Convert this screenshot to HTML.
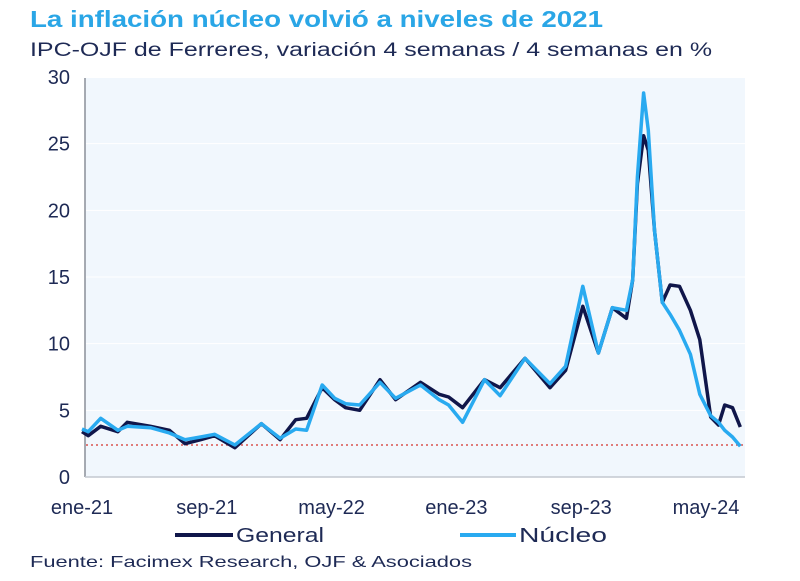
<!DOCTYPE html>
<html><head><meta charset="utf-8"><style>
body{margin:0;background:#fff;width:800px;height:581px;overflow:hidden;font-family:"Liberation Sans",sans-serif}
svg{display:block}
</style></head><body>
<svg id="c" width="800" height="581">
<text x="30" y="27" font-size="23" font-weight="bold" fill="#2aa6e6" textLength="573" lengthAdjust="spacingAndGlyphs">La inflación núcleo volvió a niveles de 2021</text>
<text x="30" y="56" font-size="19" fill="#1e2a55" textLength="682" lengthAdjust="spacingAndGlyphs">IPC-OJF de Ferreres, variación 4 semanas / 4 semanas en %</text>
<rect x="85" y="78" width="660" height="399" fill="#f1f7fd"/>
<g id="grid"></g>
<line x1="85" y1="78" x2="85" y2="477" stroke="#8a8f99" stroke-width="1.5"/>
<line x1="85" y1="477" x2="745" y2="477" stroke="#c4c8d0" stroke-width="1.5"/>
<g id="yt"></g><g id="xt"></g><g id="series"></g>
<line x1="175" y1="535" x2="233" y2="535" stroke="#10164a" stroke-width="4"/>
<text x="236" y="542" font-size="20" fill="#1e2a55" textLength="88" lengthAdjust="spacingAndGlyphs">General</text>
<line x1="460" y1="535" x2="516" y2="535" stroke="#29aaf0" stroke-width="4"/>
<text x="519" y="542" font-size="20" fill="#1e2a55" textLength="88" lengthAdjust="spacingAndGlyphs">Núcleo</text>
<text x="30" y="567" font-size="16" fill="#1e2a55" textLength="442" lengthAdjust="spacingAndGlyphs">Fuente: Facimex Research, OJF &amp; Asociados</text>
</svg>
<script>
const months=[0,0.4,1.2,2.3,2.9,4.4,5.6,6.6,7.6,8.5,9.8,11.5,12.7,13.7,14.4,15.4,16.2,16.9,17.8,19.1,20.1,21.7,22.9,23.5,24.4,25.8,26.8,28.4,30.0,31.0,32.1,33.1,34.0,34.9,35.3,35.6,36.0,36.3,36.7,37.2,37.7,38.3,39.0,39.6,40.3,40.8,41.2,41.7,42.2];
const general=[3.4,3.1,3.8,3.4,4.1,3.8,3.5,2.5,2.8,3.1,2.2,4.0,2.8,4.3,4.4,6.7,5.8,5.2,5.0,7.3,5.8,7.1,6.2,6.0,5.2,7.3,6.7,8.9,6.7,8.0,12.8,9.3,12.7,11.9,14.8,22,25.6,24.5,18.5,13.1,14.4,14.3,12.5,10.3,4.5,3.9,5.4,5.2,3.75];
const nucleo=[3.6,3.4,4.4,3.5,3.8,3.7,3.3,2.8,3.0,3.2,2.4,4.0,2.9,3.6,3.5,6.9,5.9,5.5,5.4,7.1,5.9,6.9,5.8,5.4,4.1,7.3,6.1,8.9,7.0,8.3,14.3,9.3,12.7,12.5,14.8,22.5,28.8,26,18.5,13.1,12.2,11.0,9.2,6.2,4.6,4.1,3.5,3.0,2.3];
const yTicks=[0,5,10,15,20,25,30];
const xTickMonths=[0,8,16,24,32,40];
const xTickLabels=["ene-21","sep-21","may-22","ene-23","sep-23","may-24"];
const refLevel=[2.4];
const NS="http://www.w3.org/2000/svg";
const X=m=>82+m*15.6, Y=v=>477-v*13.333;
function mk(t,a,p){const e=document.createElementNS(NS,t);for(const k in a)e.setAttribute(k,a[k]);p.appendChild(e);return e;}
const grid=document.getElementById('grid'),yt=document.getElementById('yt'),xt=document.getElementById('xt'),sr=document.getElementById('series');
yTicks.forEach(v=>{
 if(v>0){const g=mk('line',{x1:86,x2:745,y1:Y(v),y2:Y(v),stroke:'#ffffff','stroke-width':1},grid);
 
 }
 const t=mk('text',{x:70,y:Y(v)+7,'font-size':20,fill:'#1e2a55','text-anchor':'end'},yt);t.textContent=v;
 
 
});
xTickMonths.forEach((m,i)=>{
 const t=mk('text',{x:X(m),y:514,'font-size':20,fill:'#1e2a55','text-anchor':'middle'},xt);t.textContent=xTickLabels[i];
 
 
});
const r=mk('line',{x1:86,x2:745,y1:Y(refLevel[0]),y2:Y(refLevel[0]),stroke:'#d9534f','stroke-width':1.5,'stroke-dasharray':'2,3'},sr);


function line(vals,col,name){
 const d=vals.map((v,i)=>(i?'L':'M')+X(months[i]).toFixed(1)+','+Y(v).toFixed(1)).join('');
 const p=mk('path',{d:d,fill:'none',stroke:col,'stroke-width':3.5,'stroke-linejoin':'round'},sr);
 
 
}
line(general,'#10164a','series-general');
line(nucleo,'#29aaf0','series-nucleo');
</script>
</body></html>
